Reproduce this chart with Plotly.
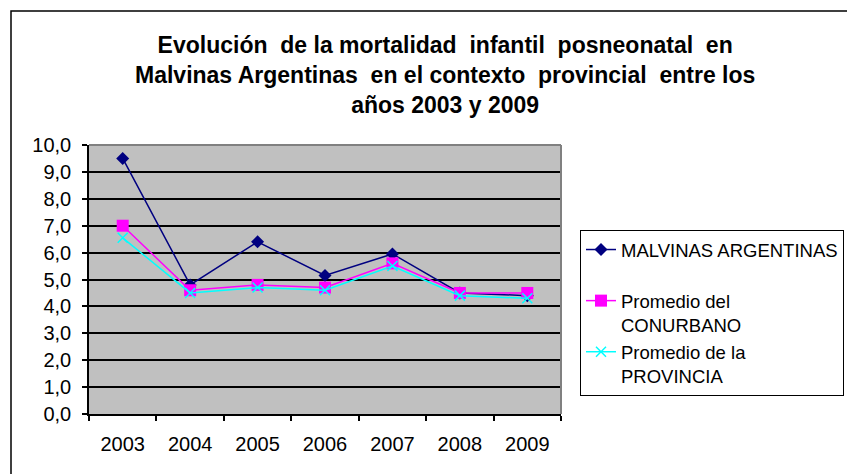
import plotly.graph_objects as go

years = ["2003", "2004", "2005", "2006", "2007", "2008", "2009"]
malvinas = [9.5, 4.8, 6.4, 5.15, 5.95, 4.5, 4.4]
conurbano = [7.0, 4.6, 4.8, 4.7, 5.6, 4.5, 4.5]
provincia = [6.55, 4.5, 4.7, 4.6, 5.5, 4.4, 4.3]
y_ticks = [0, 1, 2, 3, 4, 5, 6, 7, 8, 9, 10]

title_lines = ["Evolución  de la mortalidad  infantil  posneonatal  en",
               "Malvinas Argentinas  en el contexto  provincial  entre los",
               "años 2003 y 2009"]

FONT = "Liberation Sans, Arial, sans-serif"

W, H = 855, 474
L, R, T, B = 81, 553, 137, 406
pw, ph = R - L, B - T

def px(x):
    return (x - L) / pw

def py(y):
    return (B - y) / ph

fig = go.Figure()
fig.add_trace(go.Scatter(
    x=years, y=malvinas, mode="lines+markers",
    name="MALVINAS ARGENTINAS<br> ",
    line=dict(color="#000080", width=1.5),
    marker=dict(symbol="diamond", size=10, color="#000080"),
))
fig.add_trace(go.Scatter(
    x=years, y=conurbano, mode="lines+markers",
    name="Promedio del<br>CONURBANO",
    line=dict(color="#FF00FF", width=1.5),
    marker=dict(symbol="square", size=12, color="#FF00FF"),
))
fig.add_trace(go.Scatter(
    x=years, y=provincia, mode="lines+markers",
    name="Promedio de la<br>PROVINCIA",
    line=dict(color="#00FFFF", width=1.5),
    marker=dict(symbol="x-thin", size=10, line=dict(color="#00FFFF", width=1.5), color="#00FFFF"),
))

title_html = "<br>".join("<b>" + s + "</b>" for s in title_lines)

fig.update_layout(
    width=W, height=H,
    margin=dict(l=L, r=W - R, t=T, b=H - B, pad=0),
    paper_bgcolor="white",
    plot_bgcolor="#C0C0C0",
    separators=",.",
    font=dict(family=FONT, size=20, color="black"),
    showlegend=True,
    legend=dict(
        x=px(572), y=py(222), xanchor="left", yanchor="top",
        bordercolor="black", borderwidth=1, bgcolor="white",
        font=dict(family=FONT, size=18.5, color="black"),
        valign="top", tracegroupgap=0,
    ),
    xaxis=dict(
        type="category", tickson="boundaries",
        showline=True, linecolor="black", linewidth=1.5,
        ticks="outside", ticklen=5, tickcolor="black", tickwidth=1.5,
        showgrid=False, ticklabelstandoff=11,
        tickfont=dict(family=FONT, size=20),
        range=[-0.5, 6.5],
    ),
    yaxis=dict(
        range=[0, 10], tickvals=y_ticks, tickformat=".1f",
        showline=True, linecolor="black", linewidth=1.5,
        ticks="outside", ticklen=5, tickcolor="black", tickwidth=1.5,
        showgrid=True, gridcolor="black", gridwidth=1.5,
        zeroline=False, ticklabelstandoff=7,
        tickfont=dict(family=FONT, size=20),
    ),
    shapes=[
        dict(type="rect", xref="paper", yref="paper",
             x0=px(3), x1=px(850), y0=py(468), y1=py(3),
             line=dict(color="black", width=1.5), layer="below"),
        dict(type="line", xref="paper", yref="paper",
             x0=0, x1=1, y0=1, y1=1, line=dict(color="#808080", width=2)),
        dict(type="line", xref="paper", yref="paper",
             x0=1, x1=1, y0=0, y1=1, line=dict(color="#808080", width=2)),
    ],
    annotations=[
        dict(text=title_html, xref="paper", yref="paper",
             x=px(437), y=py(67), xanchor="center", yanchor="middle",
             showarrow=False, align="center",
             font=dict(family=FONT, size=23, color="black")),
    ],
)

fig.write_html("out.html")
